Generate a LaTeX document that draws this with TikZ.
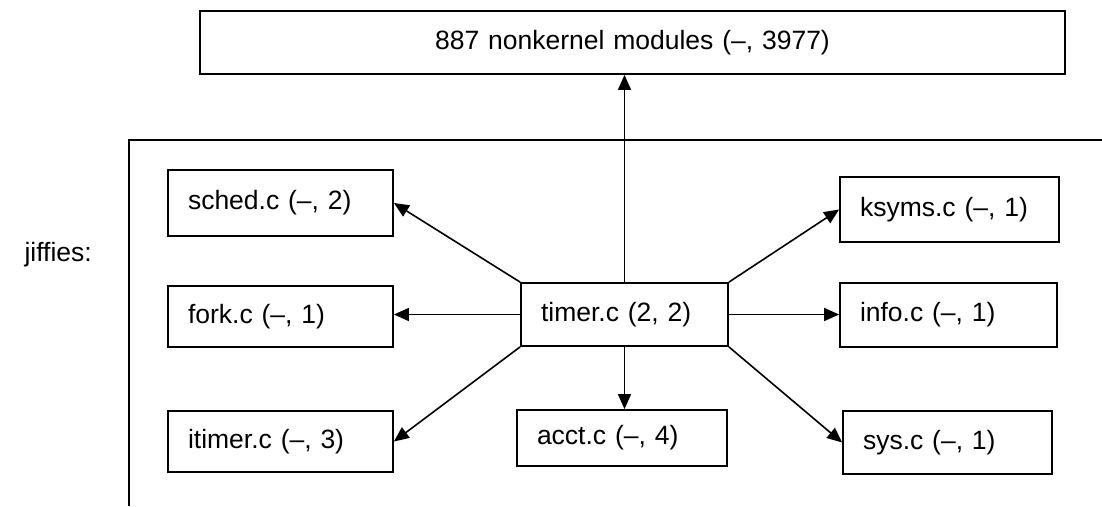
\documentclass[tikz,border=0pt]{standalone}
\usepackage{fontspec}
\setmainfont{Liberation Sans}
\usetikzlibrary{arrows.meta}
\begin{document}
\begin{tikzpicture}[x=1pt,y=-1pt,
  box/.style={draw, line width=1.8pt, inner xsep=20pt, inner ysep=0pt, align=left,
    font=\fontsize{26.5}{30}\selectfont},
  conn/.style={line width=1.6pt, -{Triangle[length=15pt,width=13pt]}},
  framel/.style={line width=2.4pt}]
\useasboundingbox (0,0) rectangle (1102,506);
\node[box, align=center, text width=825pt, minimum height=63pt] (top) at (632.5,42.5) {887 nonkernel modules (–, 3977)};
\node[box, text width=185pt, minimum height=66pt] (sched) at (280.5,203) {sched.c (–, 2)};
\node[box, text width=185pt, minimum height=61pt] (fork) at (280.5,316.5) {fork.c (–, 1)};
\node[box, text width=185pt, minimum height=61pt] (itimer) at (280.5,441.5) {itimer.c (–, 3)};
\node[box, text width=167pt, minimum height=63pt] (timer) at (624.5,314.5) {timer.c (2, 2)};
\node[box, text width=170pt, minimum height=56pt] (acct) at (622,438) {acct.c (–, 4)};
\node[box, text width=179pt, minimum height=65pt] (ksyms) at (949.5,209.5) {ksyms.c (–, 1)};
\node[box, text width=177pt, minimum height=64pt] (info) at (948.5,315) {info.c (–, 1)};
\node[box, text width=169pt, minimum height=63pt] (sys) at (947.5,442.5) {sys.c (–, 1)};
\node[anchor=east, inner sep=0pt, font=\fontsize{26.5}{30}\selectfont] (jiffies) at (92,255) {jiffies:};
\coordinate (fr1) at (1102,140);
\coordinate (fr2) at (129,140);
\coordinate (fr3) at (129,506);
\draw[framel] (fr1) -- (fr2) -- (fr3);
\draw[conn] (timer.north) -- (timer.north |- top.south);
\draw[conn] (timer.south) -- (timer.south |- acct.north);
\draw[conn] (timer.north west) -- (sched.east);
\draw[conn] (timer.west) -- (timer.west -| fork.east);
\draw[conn] (timer.south west) -- (itimer.east);
\draw[conn] (timer.north east) -- (ksyms.west);
\draw[conn] (timer.east) -- (timer.east -| info.west);
\draw[conn] (timer.south east) -- (sys.west);
\end{tikzpicture}
\end{document}
